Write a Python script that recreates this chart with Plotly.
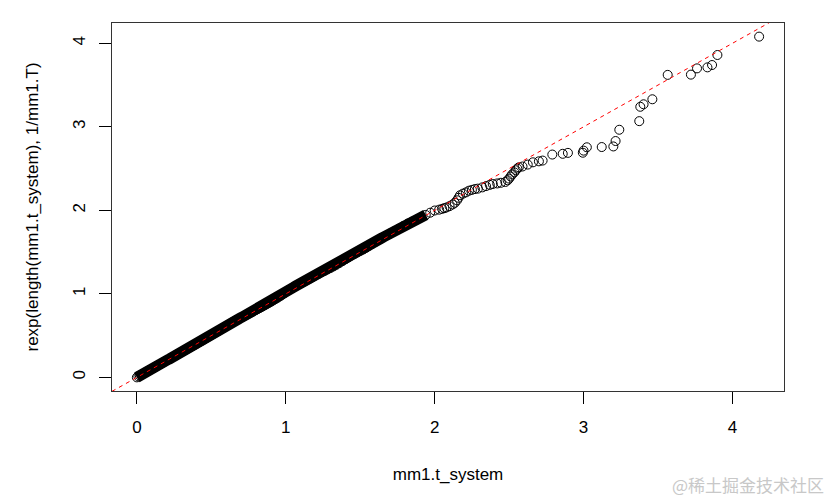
import plotly.graph_objects as go

# Sorted sample quantiles (x) against sorted exponential draws (y)
t_system = [
    0.00, 0.01, 0.02, 0.03, 0.04, 0.05, 0.06, 0.07, 0.08, 0.09,
    0.10, 0.11, 0.12, 0.13, 0.14, 0.15, 0.16, 0.17, 0.18, 0.19,
    0.20, 0.21, 0.22, 0.23, 0.24, 0.25, 0.26, 0.27, 0.28, 0.29,
    0.30, 0.31, 0.32, 0.33, 0.34, 0.35, 0.36, 0.37, 0.38, 0.39,
    0.40, 0.41, 0.42, 0.43, 0.44, 0.45, 0.46, 0.47, 0.48, 0.49,
    0.50, 0.51, 0.52, 0.53, 0.54, 0.55, 0.56, 0.57, 0.58, 0.59,
    0.60,
    0.615, 0.63, 0.645, 0.66, 0.675, 0.69, 0.705, 0.72, 0.735, 0.75,
    0.765, 0.78, 0.795, 0.81, 0.825, 0.84, 0.855, 0.87, 0.885, 0.90,
    0.915, 0.93, 0.945, 0.96, 0.975, 0.99, 1.005, 1.02, 1.035, 1.05,
    1.065, 1.08, 1.095, 1.11, 1.125, 1.14, 1.155, 1.17, 1.185, 1.20,
    1.22, 1.24, 1.26, 1.28, 1.30, 1.32, 1.34, 1.36, 1.38, 1.40,
    1.42, 1.44, 1.46, 1.48, 1.50, 1.52, 1.54, 1.56, 1.58, 1.60,
    1.62, 1.64, 1.66, 1.68, 1.70,
    1.73, 1.76, 1.79, 1.82, 1.85, 1.88, 1.91, 1.94, 1.97, 2.00,
    # upper tail
    2.03, 2.05, 2.065, 2.08, 2.10, 2.12, 2.135, 2.15, 2.16, 2.17, 2.19, 2.21,
    2.23, 2.25, 2.27, 2.29, 2.32, 2.345, 2.37, 2.39, 2.42, 2.445,
    2.475, 2.49, 2.50, 2.51, 2.52, 2.535, 2.545, 2.555, 2.565, 2.59,
    2.625, 2.66, 2.70, 2.725, 2.79, 2.86, 2.895, 2.995, 3.00, 3.022,
    3.122, 3.20, 3.215, 3.24, 3.374, 3.381, 3.403, 3.462, 3.565, 3.721,
    3.762, 3.832, 3.863, 3.899, 4.179,
]

rexp_draws = [
    0.000, 0.012, 0.021, 0.032, 0.041, 0.052, 0.062, 0.071, 0.082, 0.092,
    0.101, 0.112, 0.122, 0.131, 0.142, 0.152, 0.161, 0.172, 0.182, 0.192,
    0.203, 0.213, 0.222, 0.233, 0.244, 0.253, 0.262, 0.274, 0.284, 0.293,
    0.303, 0.312, 0.323, 0.334, 0.343, 0.352, 0.362, 0.373, 0.383, 0.392,
    0.402, 0.413, 0.424, 0.433, 0.443, 0.454, 0.465, 0.476, 0.486, 0.495,
    0.507, 0.517, 0.528, 0.538, 0.548, 0.559, 0.570, 0.581, 0.592, 0.603,
    0.614,
    0.632, 0.648, 0.664, 0.679, 0.692, 0.706, 0.720, 0.734, 0.748, 0.762,
    0.776, 0.789, 0.803, 0.816, 0.830, 0.845, 0.860, 0.874, 0.889, 0.905,
    0.921, 0.937, 0.953, 0.970, 0.988, 1.008, 1.028, 1.046, 1.062, 1.077,
    1.092, 1.106, 1.120, 1.134, 1.148, 1.162, 1.176, 1.191, 1.206, 1.221,
    1.240, 1.258, 1.275, 1.292, 1.310, 1.328, 1.348, 1.370, 1.392, 1.414,
    1.436, 1.458, 1.478, 1.497, 1.515, 1.532, 1.552, 1.575, 1.598, 1.622,
    1.644, 1.664, 1.684, 1.703, 1.722,
    1.750, 1.780, 1.812, 1.842, 1.866, 1.890, 1.918, 1.945, 1.972, 1.998,
    # upper tail
    2.008, 2.018, 2.026, 2.035, 2.050, 2.070, 2.090, 2.120, 2.150, 2.180, 2.200, 2.215,
    2.235, 2.245, 2.255, 2.260, 2.275, 2.290, 2.305, 2.315, 2.322, 2.330,
    2.340, 2.360, 2.380, 2.405, 2.430, 2.455, 2.480, 2.500, 2.515, 2.525,
    2.548, 2.575, 2.587, 2.596, 2.668, 2.677, 2.688, 2.690, 2.715, 2.755,
    2.758, 2.765, 2.830, 2.965, 3.068, 3.240, 3.270, 3.330, 3.622, 3.625,
    3.700, 3.712, 3.740, 3.860, 4.080,
]

# where the circles pile up so much they print as one solid band
dense_upto = 1.95

ticks = [0, 1, 2, 3, 4]
ref_intercept = 0.0
ref_slope = 1.0

FONT = "Liberation Sans, Arial, Helvetica, sans-serif"


# R-style axis range: data range padded by 4% on both sides
def r_range(vals):
    lo, hi = min(vals), max(vals)
    pad = 0.04 * (hi - lo)
    return [lo - pad, hi + pad]


x_range = r_range(t_system)
y_range = r_range(rexp_draws)

dense_x = [v for v in t_system if v <= dense_upto]
dense_y = rexp_draws[: len(dense_x)]

fig = go.Figure()

# overplotted region: solid ink under the circles
fig.add_trace(
    go.Scatter(
        x=dense_x,
        y=dense_y,
        mode="lines",
        line=dict(color="black", width=11),
        hoverinfo="skip",
    )
)

fig.add_trace(
    go.Scatter(
        x=t_system,
        y=rexp_draws,
        mode="markers",
        marker=dict(symbol="circle-open", size=9, color="black", line=dict(width=1, color="black")),
        hoverinfo="skip",
    )
)

# abline reference, spanning the whole axis range (clipped by the plot area)
fig.add_trace(
    go.Scatter(
        x=x_range,
        y=[ref_intercept + ref_slope * v for v in x_range],
        mode="lines",
        line=dict(color="red", width=1, dash="4px,4px"),
        hoverinfo="skip",
    )
)

axis_common = dict(
    tickvals=ticks,
    ticks="outside",
    ticklen=12,
    tickwidth=1,
    tickcolor="black",
    showline=True,
    linecolor="#333333",
    linewidth=1,
    mirror=True,
    showgrid=False,
    zeroline=False,
    tickfont=dict(family=FONT, size=17, color="black"),
)

fig.update_xaxes(
    range=x_range,
    ticklabelstandoff=9,
    title=dict(text="mm1.t_system", font=dict(family=FONT, size=17, color="black"), standoff=31),
    **axis_common,
)
fig.update_yaxes(
    range=y_range,
    tickangle=-90,
    ticklabelstandoff=7,
    title=dict(
        text="rexp(length(mm1.t_system), 1/mm1.T)",
        font=dict(family=FONT, size=17, color="black"),
        standoff=27,
    ),
    **axis_common,
)

fig.update_layout(
    width=832,
    height=498,
    margin=dict(l=112, r=48, t=23, b=107, autoexpand=False),
    plot_bgcolor="white",
    paper_bgcolor="white",
    showlegend=False,
    font=dict(family=FONT, color="black"),
)

# source watermark
fig.add_annotation(
    text="@稀土掘金技术社区",
    xref="paper",
    yref="paper",
    x=1.0,
    y=0,
    xanchor="right",
    yanchor="middle",
    xshift=42,
    yshift=-93,
    showarrow=False,
    font=dict(family="Noto Sans CJK SC", size=17, color="#c8c8c8"),
)

# drop the browser's default body margin so the figure sits at the page origin
fig.write_html(
    "out.html",
    config={"displayModeBar": False},
    post_script="document.body.style.margin='0';",
)
